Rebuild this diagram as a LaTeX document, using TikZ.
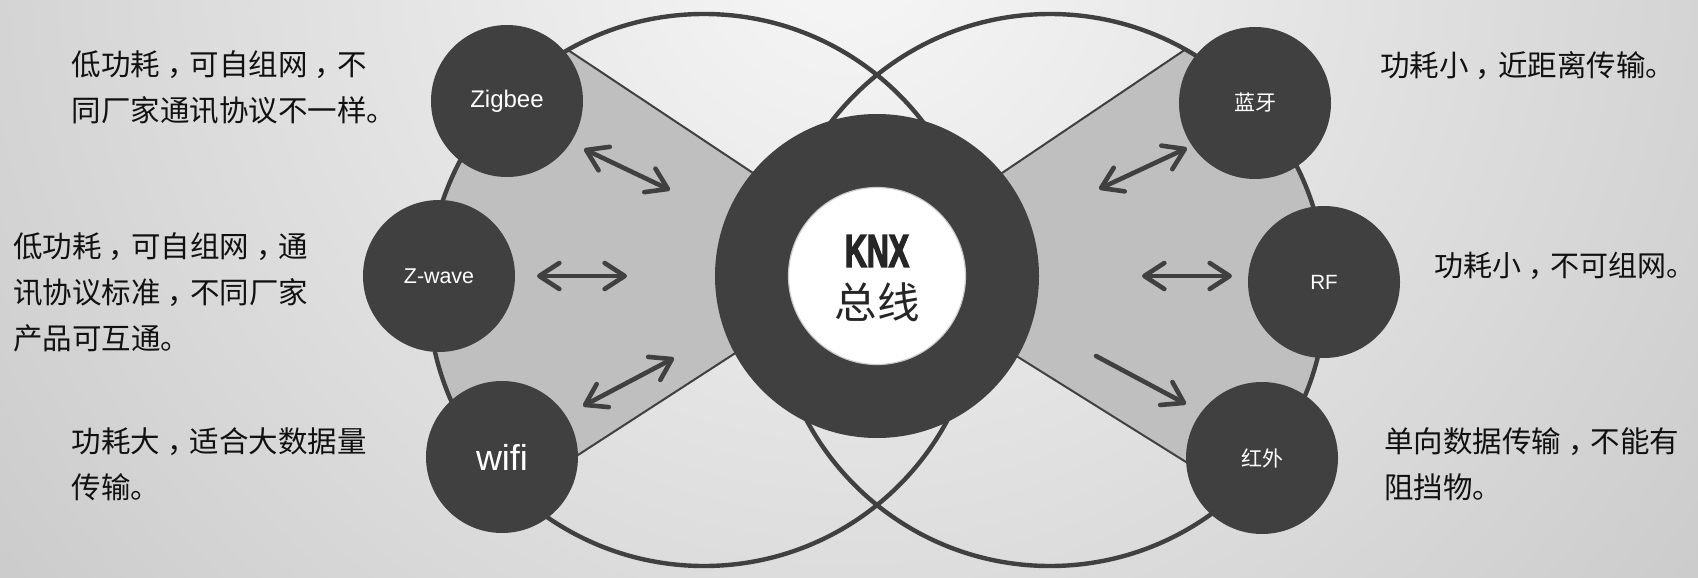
\documentclass[tikz,border=0pt]{standalone}
\usepackage{fontspec}
\usepackage{graphicx}
\setmainfont{Liberation Sans}
\newfontfamily\cjk{Noto Sans CJK SC}
\newfontfamily\knxfont{Liberation Sans}[BoldFeatures={FakeBold=4}]
% full-width comma, glyph moved towards the middle of its cell
\newcommand\cjkcomma{\makebox[1em][l]{\hspace{0.24em}，}}
\usetikzlibrary{arrows.meta,calc}
\definecolor{dark}{HTML}{404040}
\definecolor{fan}{HTML}{BFBFBF}
\definecolor{bgin}{HTML}{F7F7F7}
\definecolor{bgout}{HTML}{C8C8C8}
\definecolor{desc}{HTML}{111111}
\definecolor{rim}{HTML}{CCCCCC}
\definecolor{knxtext}{HTML}{262626}

\begin{document}
\begin{tikzpicture}[x=0.5pt,y=-0.5pt,
  >={Straight Barb[length=10pt,width=13pt,round]},
  dev/.style={circle,fill=dark,minimum size=76pt,inner sep=0pt,text=white},
  ring/.style={draw=dark,line width=2.2pt},
  fanedge/.style={draw=dark,line width=1pt},
  link/.style={draw=dark,line width=2.3pt,line cap=round},
  note/.style={align=left,anchor=base west,inner sep=0pt,text=desc,
    font=\cjk\fontsize{14.75pt}{23pt}\selectfont}
]
\useasboundingbox (0,0) rectangle (1698,578);

% background
\begin{scope}
  \clip (0,0) rectangle (1698,578);
  \shade[inner color=bgin,outer color=bgout] (850,-60) circle (1150);
\end{scope}

% the two large rings and the fan edges
\coordinate (Lc) at (704,290);
\coordinate (Rc) at (1050,290);
\coordinate (LU1) at (568,50);
\coordinate (LU2) at (753,173);
\coordinate (LL1) at (578,455);
\coordinate (LL2) at (720,363);
\coordinate (LA) at (intersection of LU1--LU2 and LL1--LL2);
\coordinate (RU1) at (1186,49);
\coordinate (RU2) at (1002,173);
\coordinate (RL1) at (1186,462);
\coordinate (RL2) at (1018,357);
\coordinate (RA) at (intersection of RU1--RU2 and RL1--RL2);

% grey fans
\begin{scope}
  \clip (Lc) circle (276);
  \fill[fan] (LA) -- ($(LA)!2!(LU1)$) -- (-200,-300) -- (-200,900) -- ($(LA)!2!(LL1)$) -- cycle;
\end{scope}
\begin{scope}
  \clip (Rc) circle (276);
  \fill[fan] (RA) -- ($(RA)!2!(RU1)$) -- (1900,-300) -- (1900,900) -- ($(RA)!2!(RL1)$) -- cycle;
\end{scope}

\draw[ring] (Lc) circle (276);
\draw[ring] (Rc) circle (276);

\draw[fanedge] (LU1) -- (LA);
\draw[fanedge] ($(LA)!1.1!(LL1)$) -- (LA);
\draw[fanedge] (RU1) -- (RA);
\draw[fanedge] ($(RA)!1.1!(RL1)$) -- (RA);

% arrows
\coordinate (za) at (584,149);  \coordinate (zb) at (670,190);
\coordinate (wa) at (537,276);  \coordinate (wb) at (627,276);
\coordinate (fa) at (583,406);  \coordinate (fb) at (674,358);
\coordinate (ba) at (1099,189); \coordinate (bb) at (1187,148);
\coordinate (ra) at (1142,276); \coordinate (rb) at (1232,276);
\coordinate (ia) at (1096,356); \coordinate (ib) at (1186,404);
\draw[link,<->] (za) -- (zb);
\draw[link,<->] (wa) -- (wb);
\draw[link,<->] (fa) -- (fb);
\draw[link,<->] (ba) -- (bb);
\draw[link,<->] (ra) -- (rb);
\draw[link,->] (ia) -- (ib);

% central bus
\node[circle,fill=dark,minimum size=162pt,inner sep=0pt] (bus) at (877,276) {};
\node[circle,fill=white,draw=rim,line width=0.6pt,minimum size=88.5pt,inner sep=0pt] (core) at (bus) {};
\node[inner sep=0pt,text=knxtext] (knx) at (877,251)
  {\knxfont\bfseries\fontsize{23pt}{23pt}\selectfont\scalebox{0.66}[1]{KNX}};
\node[inner sep=0pt,text=knxtext] (zx) at (877,302)
  {\cjk\fontsize{21.25pt}{21.25pt}\selectfont 总线};

% devices
\node[dev,font=\fontsize{12pt}{12pt}\selectfont] (zigbee) at (507,101) {Zigbee};
\node[dev,font=\fontsize{10.7pt}{10.7pt}\selectfont] (zwave) at (439,276) {Z-wave};
\node[dev,font=\fontsize{18pt}{18pt}\selectfont] (wifi) at (502,457) {wifi};
\node[dev,font=\cjk\fontsize{10.5pt}{10.5pt}\selectfont] (bt) at (1255,103) {蓝牙};
\node[dev,font=\fontsize{10.3pt}{10.3pt}\selectfont] (rf) at (1324,282) {RF};
\node[dev,font=\cjk\fontsize{10.5pt}{10.5pt}\selectfont] (ir) at (1262,458) {红外};

% descriptions (anchored at the baseline of their last line)
\node[note] (nzigbee) at (71.5,121) {低功耗\cjkcomma 可自组网\cjkcomma 不\\同厂家通讯协议不一样。};
\node[note] (nzwave) at (13,349) {低功耗\cjkcomma 可自组网\cjkcomma 通\\讯协议标准\cjkcomma 不同厂家\\产品可互通。};
\node[note] (nwifi) at (71.5,498) {功耗大\cjkcomma 适合大数据量\\传输。};
\node[note] (nbt) at (1380,76) {功耗小\cjkcomma 近距离传输。};
\node[note,font=\cjk\fontsize{14.5pt}{23pt}\selectfont] (nrf) at (1434,276) {功耗小\cjkcomma 不可组网。};
\node[note] (nir) at (1384,498) {单向数据传输\cjkcomma 不能有\\阻挡物。};
\end{tikzpicture}
\end{document}
